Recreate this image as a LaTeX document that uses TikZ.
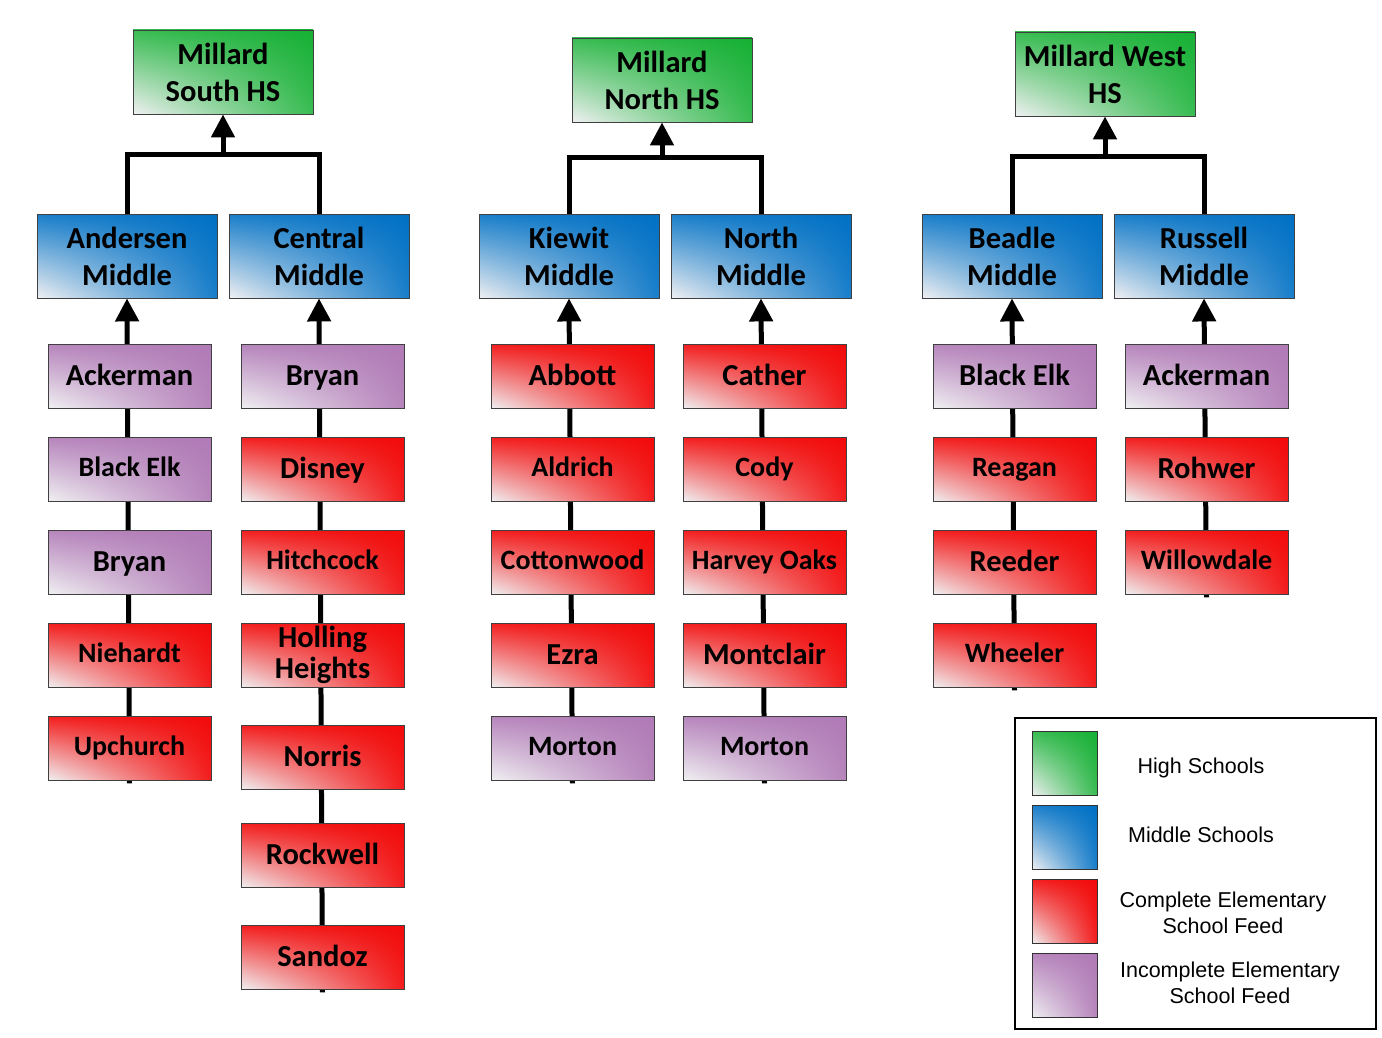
\documentclass[tikz,border=0pt]{standalone}
\usepackage{fontspec}
\setmainfont{Carlito}
\newfontfamily\lgfont{Liberation Sans}
\usetikzlibrary{arrows.meta,backgrounds,shadings}
\definecolor{hsc}{RGB}{22,176,52}
\definecolor{msc}{RGB}{0,112,196}
\definecolor{rdc}{RGB}{242,10,10}
\definecolor{ppc}{RGB}{176,122,182}
\definecolor{ltc}{RGB}{240,240,242}
\tikzset{
  boxbase/.style={draw=black!75, line width=0.9pt, inner sep=0pt,
    font=\bfseries\fontsize{30.5}{37}\selectfont},
  bigbox/.style={boxbase, align=center, minimum width=180pt, minimum height=84pt},
  elbox/.style={boxbase, minimum width=163pt, minimum height=64pt, text height=22.9pt, text depth=3.2pt},
  small/.style={font=\bfseries\fontsize{28}{34}\selectfont, text height=21pt, text depth=7pt},
  hsfill/.style={lower left=ltc, upper left=hsc!85!white, upper right=hsc, lower right=hsc!85!white},
  msfill/.style={lower left=ltc, upper left=msc!90!white, upper right=msc, lower right=msc!90!white},
  rdfill/.style={lower left=ltc, upper left=rdc!92!white, upper right=rdc, lower right=rdc!92!white},
  ppfill/.style={lower left=ltc, upper left=ppc!92!white, upper right=ppc, lower right=ppc!92!white},
  hs/.style={bigbox, hsfill},
  ms/.style={bigbox, msfill},
  cel/.style={elbox, rdfill},
  iel/.style={elbox, ppfill},
  conn/.style={line width=5pt, black},
  arr/.style={conn, -{Triangle[width=23pt,length=23pt]}},
  legtext/.style={font=\lgfont\fontsize{21.5}{26}\selectfont, align=center},
  swatch/.style={draw=black!80, line width=0.9pt, minimum width=65pt, minimum height=64pt, inner sep=0pt}
}
\begin{document}
\begin{tikzpicture}[x=1pt,y=-1pt]
\useasboundingbox (0,0) rectangle (1382,1038);
% High schools
\node[hs] (south) at (223,72) {Millard\\South HS};
\node[hs] (north) at (662,80) {Millard\\North HS};
\node[hs] (west) at (1105,74) {Millard West\\HS};
% Middle schools
\node[ms] (andersen) at (127,256) {Andersen\\Middle};
\node[ms] (central) at (319,256) {Central\\Middle};
\node[ms] (kiewit) at (569,256) {Kiewit\\Middle};
\node[ms] (northm) at (761,256) {North\\Middle};
\node[ms] (beadle) at (1012,256) {Beadle\\Middle};
\node[ms] (russell) at (1204,256) {Russell\\Middle};
% Column 1
\node[iel] (a1) at (129.5,376) {Ackerman};
\node[iel,small] (a2) at (129.5,469) {Black Elk};
\node[iel] (a3) at (129.5,562) {Bryan};
\node[cel,small] (a4) at (129.5,655) {Niehardt};
\node[cel,small] (a5) at (129.5,748) {Upchurch};
% Column 2
\node[iel] (b1) at (322.5,376) {Bryan};
\node[cel] (b2) at (322.5,469) {Disney};
\node[cel,small] (b3) at (322.5,562) {Hitchcock};
\node[cel,align=center,font=\bfseries\fontsize{30.5}{31}\selectfont, text height=, text depth=] (b4) at (322.5,655) {Holling\\Heights};
\node[cel] (b5) at (322.5,757) {Norris};
\node[cel] (b6) at (322.5,855) {Rockwell};
\node[cel] (b7) at (322.5,957) {Sandoz};
% Column 3
\node[cel] (c1) at (572.5,376) {Abbott};
\node[cel,small] (c2) at (572.5,469) {Aldrich};
\node[cel,small] (c3) at (572.5,562) {Cottonwood};
\node[cel] (c4) at (572.5,655) {Ezra};
\node[iel,small] (c5) at (572.5,748) {Morton};
% Column 4
\node[cel] (d1) at (764.5,376) {Cather};
\node[cel,small] (d2) at (764.5,469) {Cody};
\node[cel,small] (d3) at (764.5,562) {Harvey Oaks};
\node[cel] (d4) at (764.5,655) {Montclair};
\node[iel,small] (d5) at (764.5,748) {Morton};
% Column 5
\node[iel] (e1) at (1014.5,376) {Black Elk};
\node[cel,small] (e2) at (1014.5,469) {Reagan};
\node[cel] (e3) at (1014.5,562) {Reeder};
\node[cel,small] (e4) at (1014.5,655) {Wheeler};
% Column 6
\node[iel] (f1) at (1206.5,376) {Ackerman};
\node[cel] (f2) at (1206.5,469) {Rohwer};
\node[cel,small] (f3) at (1206.5,562) {Willowdale};
% Connectors
\begin{scope}[on background layer]
\draw[arr] ([yshift=-3pt]a5.south) -- (andersen.south);
\draw[arr] ([yshift=-3pt]b7.south) -- (central.south);
\draw[arr] ([yshift=-3pt]c5.south) -- (kiewit.south);
\draw[arr] ([yshift=-3pt]d5.south) -- (northm.south);
\draw[arr] ([yshift=-3pt]e4.south) -- (beadle.south);
\draw[arr] ([yshift=-3pt]f3.south) -- (russell.south);
\end{scope}
\coordinate (js) at (south.south |- 0,155);
\coordinate (jn) at (north.south |- 0,158);
\coordinate (jw) at (west.south |- 0,157);
\draw[conn] (andersen.north) |- (js) -| (central.north);
\draw[arr] (js) -- (south.south);
\draw[conn] (kiewit.north) |- (jn) -| (northm.north);
\draw[arr] (jn) -- (north.south);
\draw[conn] (beadle.north) |- (jw) -| (russell.north);
\draw[arr] (jw) -- (west.south);
% Legend
\node[draw=black, line width=2pt, minimum width=361pt, minimum height=311pt, inner sep=0pt] (legend) at (1195.5,873.5) {};
\node[swatch, hsfill] (sw1) at (1064.5,763) {};
\node[swatch, msfill] (sw2) at (1064.5,837) {};
\node[swatch, rdfill] (sw3) at (1064.5,911) {};
\node[swatch, ppfill] (sw4) at (1064.5,985) {};
\node[legtext] (l1) at (1201,768) {High Schools};
\node[legtext] (l2) at (1201,835) {Middle Schools};
\node[legtext] (l3) at (1223,913) {Complete Elementary\\School Feed};
\node[legtext] (l4) at (1230,983) {Incomplete Elementary\\School Feed};
\end{tikzpicture}
\end{document}
